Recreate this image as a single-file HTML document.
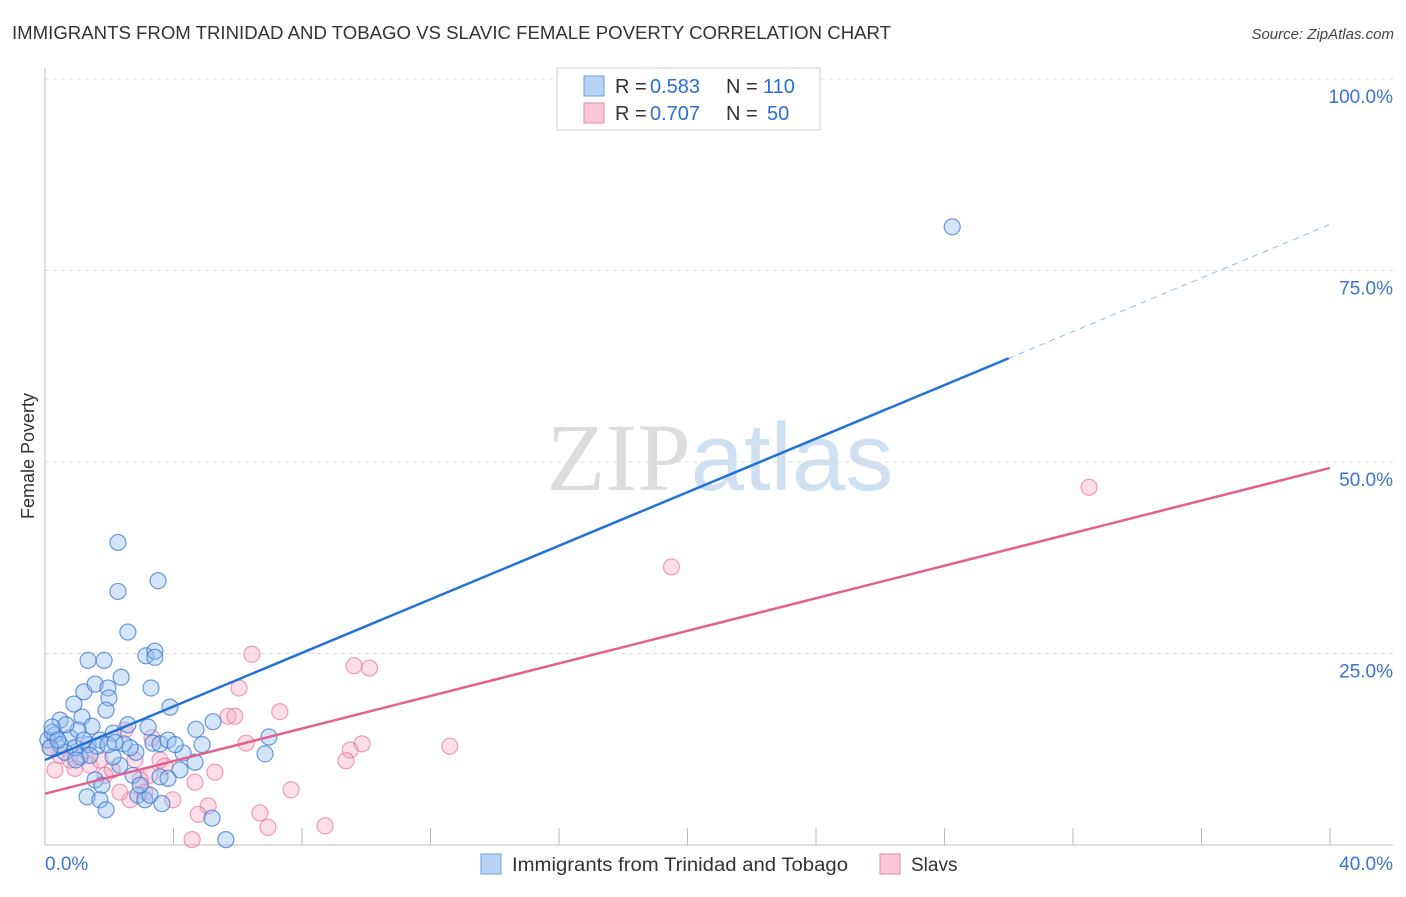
<!DOCTYPE html>
<html><head><meta charset="utf-8"><style>
body{margin:0;background:#fff;font-family:"Liberation Sans",sans-serif;}
svg text{font-family:"Liberation Sans",sans-serif;}
</style></head><body>
<svg id="chart" width="1406" height="892" xmlns="http://www.w3.org/2000/svg">
<text x="12" y="39" font-size="18" fill="#333" textLength="879" lengthAdjust="spacingAndGlyphs">IMMIGRANTS FROM TRINIDAD AND TOBAGO VS SLAVIC FEMALE POVERTY CORRELATION CHART</text>
<text x="1394" y="39" font-size="15" fill="#444" text-anchor="end" font-style="italic">Source: ZipAtlas.com</text>
<text x="720" y="490" font-size="96" text-anchor="middle"><tspan fill="#ddd" font-family="Liberation Serif">ZIP</tspan><tspan fill="#cfe0f3">atlas</tspan></text>
<g id="grid"></g>
<g id="axes"></g>
<g id="pts"></g>
<g id="lines"></g>
<text transform="translate(34,456) rotate(-90)" font-size="18" fill="#333" text-anchor="middle">Female Poverty</text>
<g>
<rect x="557" y="68" width="263" height="62" fill="#fff" stroke="#ccc"/>
<rect x="584" y="76" width="20" height="20" fill="#b8d3f5" stroke="#6a9ee0"/>
<rect x="584" y="103" width="20" height="20" fill="#f8c6d6" stroke="#e88aa8"/>
<text x="615" y="93" font-size="20" fill="#333">R =</text>
<text x="650" y="93" font-size="20" fill="#2b6fd6">0.583</text>
<text x="726" y="93" font-size="20" fill="#333">N =</text>
<text x="763" y="93" font-size="20" fill="#2b6fd6">110</text>
<text x="615" y="120" font-size="20" fill="#333">R =</text>
<text x="650" y="120" font-size="20" fill="#2b6fd6">0.707</text>
<text x="726" y="120" font-size="20" fill="#333">N =</text>
<text x="767" y="120" font-size="20" fill="#2b6fd6">50</text>
</g>
<g>
<rect x="481" y="854" width="20" height="20" fill="#b8d3f5" stroke="#6a9ee0"/>
<text x="512" y="871" font-size="19" fill="#333" textLength="336" lengthAdjust="spacingAndGlyphs">Immigrants from Trinidad and Tobago</text>
<rect x="880" y="854" width="20" height="20" fill="#f8c6d6" stroke="#e88aa8"/>
<text x="911" y="871" font-size="19" fill="#333">Slavs</text>
</g>
</svg>
<script>
const yTicks=[25,50,75,100];
const yTickLabels=["25.0%","50.0%","75.0%","100.0%"];
const xTicks=[4,8,12,16,20,24,28,32,36,40];
const blueX=[2.27,2.27,3.52,2.58,1.34,1.84,3.14,3.42,3.42,2.37,3.30,1.21,1.56,1.96,3.89,1.99,0.90,1.15,1.90,5.23,4.70,3.21,2.58,1.46,0.47,0.31,0.09,0.78,1.34,1.71,2.12,3.36,3.58,3.83,6.97,6.85,4.30,2.83,2.46,1.62,1.09,0.62,0.93,0.47,0.22,0.16,2.33,4.67,4.20,2.74,3.58,3.83,1.56,1.77,1.31,1.71,1.90,2.89,3.11,3.27,3.64,5.20,5.63,28.24,2.12,1.40,1.96,2.65,2.18,1.03,0.65,0.22,0.40,1.21,2.96,4.05,4.89,0.96];
const blueY=[39.5,33.1,34.5,27.8,24.1,24.1,24.7,25.3,24.5,21.9,20.5,20.0,21.0,20.5,18.0,19.2,18.4,16.7,17.6,16.1,15.1,15.4,15.7,15.5,16.3,14.4,13.7,14.0,13.1,13.7,14.6,13.3,13.2,13.7,14.1,11.9,12.0,12.1,13.2,12.9,11.5,12.1,12.7,13.1,14.7,12.7,10.4,10.8,9.8,9.1,8.9,8.7,8.5,7.8,6.3,5.9,4.6,6.5,5.9,6.5,5.4,3.5,0.7,80.7,11.5,11.7,13.1,12.7,13.4,15.0,15.7,15.4,13.7,13.7,7.8,13.1,13.1,11.1];
const pinkX=[32.5,19.5,6.44,9.62,10.1,6.04,7.31,5.70,5.91,12.6,9.87,9.50,9.37,6.26,2.49,3.33,3.73,5.29,4.67,7.66,3.98,5.08,4.77,6.69,6.94,8.72,4.58,2.65,1.87,0.93,0.47,0.16,0.78,1.40,2.09,2.80,3.27,3.58,2.33,2.96,0.31,1.24,1.71,3.11];
const pinkY=[46.7,36.3,24.9,23.4,23.1,20.5,17.4,16.8,16.8,12.9,13.2,12.4,11.0,13.3,15.0,14.0,10.3,9.5,8.2,7.2,5.9,5.1,4.0,4.2,2.3,2.5,0.7,5.9,9.1,10.0,11.7,12.7,11.1,10.4,9.8,11.1,9.1,11.1,6.9,8.5,9.8,12.4,11.1,6.9];
const blueFit=[11.1,1.748];
const pinkFit=[6.7,1.063];
const X=v=>45+v/40*1285, Y=v=>845-v/100*766;
const NS="http://www.w3.org/2000/svg";
function mk(tag,attrs,parent){const e=document.createElementNS(NS,tag);for(const k in attrs)e.setAttribute(k,attrs[k]);document.getElementById(parent).appendChild(e);return e;}
yTicks.forEach((t,i)=>{
 const g=mk('line',{x1:45,x2:1393,y1:Y(t),y2:Y(t),stroke:'#ddd','stroke-dasharray':'4,4'},'grid');
 
 
 const l=mk('text',{x:1393,y:Y(t)+24,'font-size':19,fill:'#3b73d1','text-anchor':'end'},'axes');
 l.textContent=yTickLabels[i];
 
 
});
const ax=mk('line',{x1:45,x2:45,y1:68,y2:845,stroke:'#bbb'},'axes');


const bx=mk('line',{x1:45,x2:1393,y1:845,y2:845,stroke:'#bbb'},'axes');


xTicks.forEach(t=>{
 const k=mk('line',{x1:X(t),x2:X(t),y1:828,y2:845,stroke:'#bbb'},'axes');
 
 
});
const x0=mk('text',{x:45,y:870,'font-size':19,fill:'#3b73d1'},'axes');x0.textContent='0.0%';


const x1=mk('text',{x:1393,y:870,'font-size':19,fill:'#3b73d1','text-anchor':'end'},'axes');x1.textContent='40.0%';


pinkX.forEach((v,i)=>{
 const c=mk('circle',{cx:X(v),cy:Y(pinkY[i]),r:8,fill:'rgba(245,160,190,0.35)',stroke:'rgba(230,120,160,0.7)','stroke-width':1.2},'pts');
 
 
});
blueX.forEach((v,i)=>{
 const c=mk('circle',{cx:X(v),cy:Y(blueY[i]),r:8,fill:'rgba(150,190,240,0.4)',stroke:'rgba(60,120,210,0.75)','stroke-width':1.2},'pts');
 
 
});
const f=(fit,x)=>fit[0]+fit[1]*x;
const bl=mk('line',{x1:X(0),y1:Y(f(blueFit,0)),x2:X(30),y2:Y(f(blueFit,30)),stroke:'#2270d8','stroke-width':2.5},'lines');


const bd=mk('line',{x1:X(30),y1:Y(f(blueFit,30)),x2:X(40),y2:Y(f(blueFit,40)),stroke:'#6a9ee0','stroke-width':1,'stroke-dasharray':'6,5',opacity:0.7},'lines');


const pl=mk('line',{x1:X(0),y1:Y(f(pinkFit,0)),x2:X(40),y2:Y(f(pinkFit,40)),stroke:'#e4608e','stroke-width':2.5},'lines');


</script>
</body></html>
